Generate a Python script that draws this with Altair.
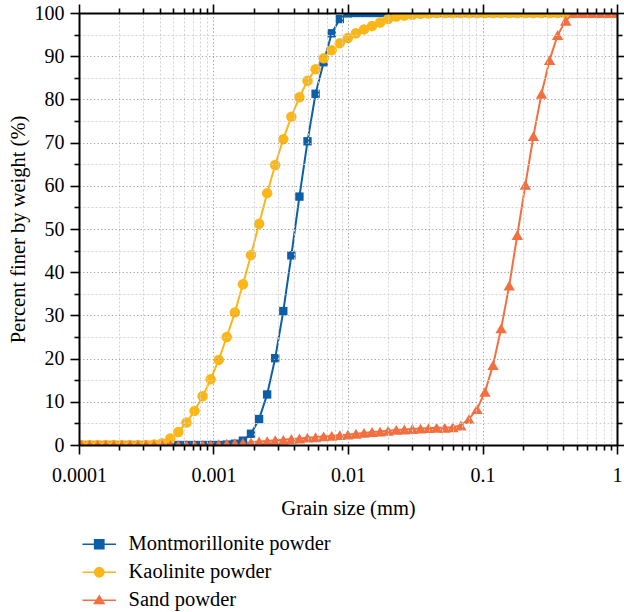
import altair as alt
import pandas as pd

# ---------------- data ----------------
series_names = ["Montmorillonite powder", "Kaolinite powder", "Sand powder"]
colors = ["#0b5ea8", "#fbb617", "#f36f3f"]

# grain size classes, micrometres
sizes_um = [
    0.1044, 0.1199, 0.1376, 0.1580, 0.1814, 0.2083, 0.2392, 0.2746, 0.3153, 0.3620,
    0.4156, 0.4772, 0.5479, 0.6291, 0.7224, 0.8294, 0.9523, 1.093, 1.255, 1.441,
    1.655, 1.900, 2.182, 2.505, 2.876, 3.303, 3.792, 4.354, 4.999, 5.740,
    6.590, 7.567, 8.688, 9.975, 11.45, 13.15, 15.10, 17.33, 19.90, 22.85,
    26.24, 30.12, 34.59, 39.71, 45.60, 52.35, 60.11, 69.02, 79.25, 90.99,
    104.4, 119.8, 137.6, 158.0, 181.4, 208.3, 239.1, 274.6, 315.3, 362.0,
    415.6, 477.2, 547.9, 629.1, 722.4, 829.4, 952.3,
]

montmorillonite = [
    0, 0, 0, 0, 0, 0, 0, 0, 0, 0,
    0, 0, 0, 0, 0, 0, 0, 0, 0.1, 0.3,
    1.0, 2.6, 6.0, 11.7, 20.1, 31.0, 43.9, 57.5, 70.3, 81.3,
    88.6, 95.3, 98.6, 99.9, 100, 100, 100, 100, 100, 100,
    100, 100, 100, 100, 100, 100, 100, 100, 100, 100,
    100, 100, 100, 100, 100, 100, 100, 100, 100, 100,
    100, 100, 100, 100, 100, 100, 100,
]

kaolinite = [
    0, 0, 0, 0, 0, 0, 0, 0, 0, 0.1,
    0.4, 1.5, 3.0, 5.2, 7.9, 11.3, 15.2, 19.7, 25.0, 30.7,
    37.2, 44.0, 51.2, 58.3, 64.8, 70.8, 76.0, 80.5, 84.3, 87.0,
    89.5, 91.4, 93.0, 94.2, 95.3, 96.2, 97.0, 97.8, 98.6, 99.2,
    99.4, 99.6, 99.8, 99.9, 100, 100, 100, 100, 100, 100,
    100, 100, 100, 100, 100, 100, 100, 100, 100, 100,
    100, 100, 100, 100, 100, 100, 100,
]

sand = [
    0, 0, 0, 0, 0, 0, 0, 0, 0, 0,
    0, 0, 0, 0, 0.05, 0.1, 0.15, 0.2, 0.3, 0.4,
    0.5, 0.6, 0.8, 0.9, 1.1, 1.2, 1.4, 1.5, 1.7, 1.8,
    2.0, 2.1, 2.3, 2.4, 2.6, 2.8, 3.0, 3.1, 3.3, 3.5,
    3.6, 3.7, 3.8, 3.9, 4.0, 4.0, 4.1, 4.5, 6.0, 8.3,
    12.3, 18.5, 27.0, 36.9, 48.6, 60.2, 71.5, 81.3, 89.1, 94.9,
    98.2, 100, 100, 100, 100, 100, 100,
]

x_major = [0.0001, 0.001, 0.01, 0.1, 1]
x_minor = [
    0.0002, 0.0003, 0.0004, 0.0005, 0.0006, 0.0007, 0.0008, 0.0009,
    0.002, 0.003, 0.004, 0.005, 0.006, 0.007, 0.008, 0.009,
    0.02, 0.03, 0.04, 0.05, 0.06, 0.07, 0.08, 0.09,
    0.2, 0.3, 0.4, 0.5, 0.6, 0.7, 0.8, 0.9,
]
y_major = [0, 10, 20, 30, 40, 50, 60, 70, 80, 90, 100]
y_minor = [5, 15, 25, 35, 45, 55, 65, 75, 85, 95]

# ---------------- table ----------------
rows = []
for name, vals in zip(series_names, [montmorillonite, kaolinite, sand]):
    for s, v in zip(sizes_um, vals):
        rows.append({"series": name, "size": s / 1000.0, "pct": v})
df = pd.DataFrame(rows)

FONT = "Liberation Serif"
TICK_FS = 20
TITLE_FS = 20.5

xscale = alt.Scale(type="log", domain=[0.0001, 1], nice=False)
yscale = alt.Scale(domain=[0, 100], nice=False, zero=False)

MAJOR_GRID = dict(grid=True, gridColor="#9c9c9c", gridDash=[1.2, 2.4], gridWidth=1)
MINOR_GRID = dict(grid=True, gridColor="#d2d2d2", gridDash=[2, 2], gridWidth=1)
COMMON = dict(domainColor="black", tickColor="black", tickWidth=1.6, zindex=1)

ax_x_bottom = alt.Axis(values=x_major, orient="bottom", format="~g", title="Grain size (mm)",
                       labelFont=FONT, labelFontSize=TICK_FS, labelColor="black",
                       titleFont=FONT, titleFontSize=TITLE_FS, titleFontWeight="normal",
                       titleColor="black", titlePadding=13, labelPadding=11,
                       tickSize=9, domainWidth=2, labelFlush=False, labelOverlap=False,
                       **COMMON, **MAJOR_GRID)
ax_x_bottom_minor = alt.Axis(values=x_minor, orient="bottom", labels=False, title=None,
                             tickSize=5, domain=False, **COMMON, **MINOR_GRID)
ax_x_top = alt.Axis(values=x_major, orient="top", labels=False, title=None, tickSize=9,
                    domainWidth=2, grid=False, **COMMON)
ax_x_top_minor = alt.Axis(values=x_minor, orient="top", labels=False, title=None, tickSize=5,
                          domain=False, grid=False, **COMMON)

ax_y_left = alt.Axis(values=y_major, orient="left", title="Percent finer by weight (%)",
                     labelFont=FONT, labelFontSize=TICK_FS, labelColor="black",
                     titleFont=FONT, titleFontSize=TITLE_FS, titleFontWeight="normal",
                     titleColor="black", titlePadding=6, labelPadding=6,
                     tickSize=9, domainWidth=2, labelFlush=False, labelOverlap=False,
                     **COMMON, **MAJOR_GRID)
ax_y_left_minor = alt.Axis(values=y_minor, orient="left", labels=False, title=None,
                           tickSize=5, domain=False, **COMMON, **MINOR_GRID)
ax_y_right = alt.Axis(values=y_major, orient="right", labels=False, title=None, tickSize=9,
                      domainWidth=2, grid=False, **COMMON)
ax_y_right_minor = alt.Axis(values=y_minor, orient="right", labels=False, title=None,
                            tickSize=5, domain=False, grid=False, **COMMON)

base = alt.Chart(df)

axis_pairs = [
    (ax_x_bottom, ax_y_left),
    (ax_x_bottom_minor, ax_y_left_minor),
    (ax_x_top, ax_y_right),
    (ax_x_top_minor, ax_y_right_minor),
    (None, None),
    (None, None),
]

shapes = ["square", "circle", "triangle-up"]
marker_sizes = [70, 110, 130]

layers = []
k = 0
# lines first (under every marker)
for name, col in zip(series_names, colors):
    ax_x, ax_y = axis_pairs[k]
    k += 1
    layers.append(
        base.transform_filter(alt.datum.series == name)
        .mark_line(clip=True, strokeWidth=2, color=col)
        .encode(
            x=alt.X("size:Q", scale=xscale, axis=ax_x),
            y=alt.Y("pct:Q", scale=yscale, axis=ax_y),
            order=alt.Order("size:Q"),
        )
    )
for name, col, shp, msz in zip(series_names, colors, shapes, marker_sizes):
    ax_x, ax_y = axis_pairs[k]
    k += 1
    layers.append(
        base.transform_filter(alt.datum.series == name)
        .mark_point(shape=shp, filled=True, size=msz, opacity=1, color=col, clip=True)
        .encode(
            x=alt.X("size:Q", scale=xscale, axis=ax_x),
            y=alt.Y("pct:Q", scale=yscale, axis=ax_y),
        )
    )

# legend: symbols "—■—", "—●—", "—▲—" drawn by the legend itself
legend_paths = [
    "M-2.4,0H2.4M-0.66,-0.66H0.66V0.66H-0.66Z",
    "M-2.4,0H2.4M0.67,0A0.67,0.67,0,1,1,-0.67,0A0.67,0.67,0,1,1,0.67,0Z",
    "M-2.4,0H2.4M0,-0.62L0.68,0.46H-0.68Z",
]
leg = alt.Legend(
    title=None, orient="none", legendX=10, legendY=521, padding=0,
    labelFont=FONT, labelFontSize=TITLE_FS, labelColor="black", labelOffset=19,
    symbolSize=196, symbolStrokeWidth=1.5, symbolOpacity=1, rowPadding=7,
    labelLimit=400,
)
legend_layer = base.transform_filter(alt.datum.pct > 1000).mark_point(
    filled=True, clip=True
).encode(
    x=alt.X("size:Q", scale=xscale, axis=None),
    y=alt.Y("pct:Q", scale=yscale, axis=None),
    color=alt.Color("series:N", scale=alt.Scale(domain=series_names, range=colors), legend=leg),
    stroke=alt.Stroke("series:N", scale=alt.Scale(domain=series_names, range=colors), legend=leg),
    shape=alt.Shape("series:N", scale=alt.Scale(domain=series_names, range=legend_paths), legend=leg),
)
layers.append(legend_layer)

chart = alt.layer(*layers).resolve_axis(
    x="independent", y="independent"
).properties(
    width=538, height=432,
    autosize=alt.AutoSizeParams(type="none"),
    padding={"left": 79, "top": 13, "right": 7, "bottom": 167},
).configure_view(stroke=None).configure(background="white")

chart.save("out.html", embed_options={"renderer": "svg", "actions": False})
